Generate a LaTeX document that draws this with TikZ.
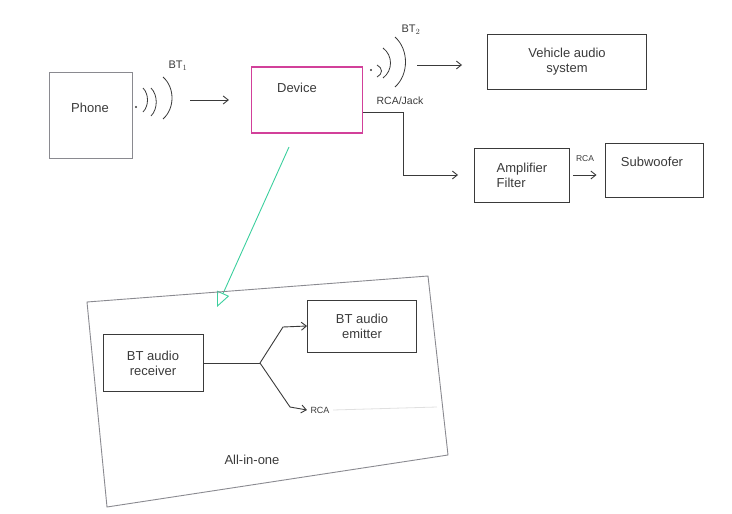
\documentclass[tikz,border=0pt]{standalone}
\usepackage{fontspec}
\setmainfont{Liberation Sans}
\usetikzlibrary{arrows.meta}

\definecolor{pen}{HTML}{3A3A3A}
\definecolor{lightpen}{HTML}{8A8A90}
\definecolor{marker}{HTML}{D2409A}
\definecolor{mint}{HTML}{3CCF9E}

\tikzset{
  box/.style = {draw = pen, line width = 0.9pt, text = pen, align = center},
  arr/.style = {draw = pen, line width = 0.9pt, -{Straight Barb[length=5pt,width=8pt]}},
  wave/.style = {draw = pen, line width = 0.8pt},
  lbl/.style = {text = pen}
}

% one bracket of the radio symbol: x, y centre, bulge, half height
\newcommand{\bump}[4]{\draw[wave] (#1,#2-#4) .. controls (#1+#3,#2-#4/2) and (#1+#3,#2+#4/2) .. (#1,#2+#4);}

\begin{document}
\begin{tikzpicture}[x = 1pt, y = -1pt, font = \fontsize{13pt}{15pt}\selectfont]
\useasboundingbox (0,0) rectangle (732,514);

\node[box, draw = lightpen, minimum width = 83, minimum height = 86] (ph) at (91,115) {};
\node[lbl] (phtxt) at (90,108) {Phone};
\node[box, draw = marker, line width = 1.2pt, minimum width = 111, minimum height = 66] (dev) at (307,100) {};
\node[lbl] (devtxt) at (297,88) {Device};
\node[box, minimum width = 159, minimum height = 55] (veh) at (567,62) {Vehicle audio\\system};
\node[box, minimum width = 95, minimum height = 54, align = left] (amp) at (522,175) {Amplifier\\Filter};
\node[box, minimum width = 98, minimum height = 54] (sub) at (654,170) {};
\node[lbl] (subtxt) at (652,162) {Subwoofer};

\node[lbl, font = \fontsize{11pt}{13pt}\selectfont] (bt1) at (178,66) {BT$_1$};
\node[lbl, font = \fontsize{11pt}{13pt}\selectfont] (bt2) at (411,30) {BT$_2$};
\node[lbl, font = \fontsize{10.5pt}{12pt}\selectfont] (jack) at (400,101) {RCA/Jack};
\node[lbl, font = \fontsize{8.5pt}{10pt}\selectfont] (rca1) at (585,159) {RCA};

% radio symbols
\fill[pen] (136,107) circle (1.2);
\bump{143}{100}{6}{12}
\bump{151}{102}{7}{14}
\bump{163}{98}{12}{21}
\fill[pen] (371,70) circle (1.2);
\bump{377}{71}{6}{6}
\bump{383}{63}{10}{15}
\bump{395}{62}{14}{25}

\coordinate (s1) at (190,100);
\coordinate (s2) at (417,65);
\draw[arr] (s1) -- ([xshift=-22pt]dev.west);
\draw[arr, shorten >= 25pt] (s2) -- (veh.west |- s2);
\draw[arr, shorten >= 16pt] ([yshift=-12pt]dev.east) -- ++(40,0) |- (amp.west);
\draw[arr, shorten <= 3pt, shorten >= 8pt] (amp.east) -- (amp.east -| sub.west);

% zoom into the device
\coordinate (g1) at (289,147);
\coordinate (g2) at (217,307);
\draw[mint, line width = 0.9pt, -{Triangle[open,length=15pt,width=13pt]}] (g1) -- (g2);

% all-in-one board
\coordinate (c1) at (87,302);
\coordinate (c2) at (428,276);
\coordinate (c3) at (448,455);
\coordinate (c4) at (107,507);
\draw[lightpen, line width = 0.9pt] (c1) -- (c2) -- (c3) -- (c4) -- cycle;

\node[box, minimum width = 100, minimum height = 57] (rcv) at (153,363) {BT audio\\receiver};
\node[box, minimum width = 109, minimum height = 52] (emt) at (362,326) {BT audio\\emitter};
\node[lbl, font = \fontsize{9pt}{10pt}\selectfont] (rca2) at (320,410) {RCA};
\node[lbl] (aio) at (252,460) {All-in-one};

\coordinate (fork) at (260,363);
\draw[pen, line width = 0.9pt] (rcv.east) -- (fork);
\draw[arr] (fork) -- ++(23,-36) -- (emt.west);
\draw[arr] (fork) -- ++(30,44) -- (rca2.west);
\draw[black!12, line width = 0.8pt] (rca2.east) -- (437,407);
\end{tikzpicture}
\end{document}
